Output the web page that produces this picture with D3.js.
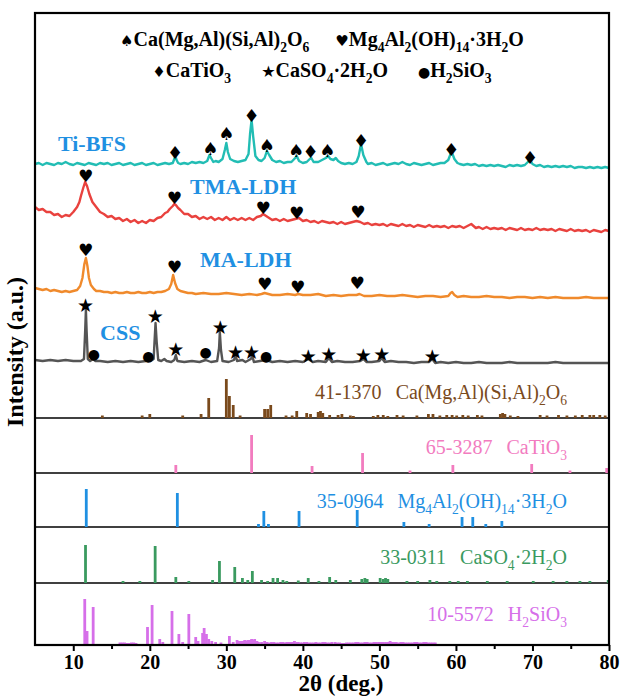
<!DOCTYPE html>
<meta charset="utf-8">
<script src="https://d3js.org/d3.v7.min.js"></script>
<style>
  body { margin: 0; background: #fff; }
  text { font-family: "Liberation Serif", "Times New Roman", serif; }
</style>
<div id="chart"></div>
<script>

// ---- measured patterns (2theta, intensity above the pattern baseline, a.u.) ----
var tiBFS = [[5,0],[5.5,1],[6,-1],[6.5,1],[7,0],[7.5,-1],[8,1],[8.5,0],[9,2],[9.5,0],[10,-1],[10.5,1],[11,0],[11.5,-1],[12,1],[12.5,0],[13,-1],[13.5,1],[14,0],[14.5,1],[15,-1],[15.5,0],[16,1],[16.5,-1],[17,0],[17.5,1],[18,-1],[18.5,0],[19,1],[19.5,-1],[20,0],[20.5,1],[21,-1],[21.5,0],[22,1],[22.5,0],[23,1],[23.2,5],[23.35,8],[23.5,4],[23.7,1],[24,0],[24.5,1],[25,0],[25.5,2],[26,1],[26.5,2],[27,1],[27.5,3],[27.8,9],[28,6],[28.3,2],[28.6,3],[29,2],[29.5,5],[29.8,14],[30,21],[30.2,12],[30.5,5],[31,3],[31.5,2],[32,3],[32.5,4],[32.9,10],[33.1,30],[33.3,44],[33.5,28],[33.8,8],[34.2,4],[34.6,3],[35,6],[35.3,13],[35.6,9],[36,4],[36.5,2],[37,3],[37.5,1],[38,2],[38.5,2],[39,6],[39.2,8],[39.5,3],[40,1],[40.5,2],[40.9,5],[41.1,6],[41.4,2],[42,2],[42.5,4],[43,6],[43.3,8],[43.6,5],[44,4],[44.3,6],[44.6,3],[45,1],[45.5,0],[46,1],[46.5,0],[47,2],[47.3,8],[47.6,20],[47.9,9],[48.3,2],[48.5,0],[49,1],[49.5,-1],[50,0],[50.5,1],[51,-1],[51.5,0],[52,1],[52.5,0],[53,2],[53.5,0],[54,-1],[54.5,1],[55,0],[55.5,-1],[56,0],[56.5,1],[57,-1],[57.5,0],[58,1],[58.5,1],[59,4],[59.3,10],[59.5,11],[59.8,5],[60.2,1],[60.5,0],[61,-1],[61.5,0],[62,-1],[62.5,0],[63,-2],[63.5,-1],[64,-2],[64.5,-1],[65,-2],[65.5,-1],[66,-2],[66.5,-3],[67,-1],[67.5,-2],[68,-1],[68.5,-2],[69,-1],[69.4,2],[69.7,4],[70,0],[70.5,-2],[71,-1],[71.5,-3],[72,-2],[72.5,-3],[73,-2],[73.5,-3],[74,-2],[74.5,-3],[75,-2],[75.5,-4],[76,-3],[76.5,-3],[77,-4],[77.5,-3],[78,-4],[78.5,-3],[79,-4],[79.5,-3],[80,-4]];

var tmaLDH = [[5,1],[5.5,-2],[6,-1],[6.5,-4],[7,-4],[7.5,-7],[8,-6],[8.5,-9],[9,-7],[9.5,-8],[10,-4],[10.5,1],[10.8,6],[11,12],[11.3,20],[11.55,26],[11.8,22],[12.1,14],[12.5,6],[13,1],[13.5,-4],[14,-6],[14.5,-9],[15,-8],[15.5,-11],[16,-10],[16.5,-13],[17,-11],[17.5,-14],[18,-12],[18.5,-15],[19,-13],[19.5,-15],[20,-12],[20.5,-13],[21,-10],[21.5,-9],[22,-5],[22.3,-4],[22.6,-1],[23,2],[23.2,4],[23.4,3],[23.7,0],[24,-2],[24.5,-6],[25,-6],[25.5,-9],[26,-8],[26.5,-11],[27,-9],[27.5,-11],[28,-9],[28.5,-12],[29,-10],[29.5,-12],[30,-9],[30.5,-12],[31,-10],[31.5,-12],[32,-10],[32.5,-12],[33,-10],[33.5,-12],[34,-9],[34.5,-8],[34.8,-6],[35.2,-8],[35.6,-10],[36,-12],[36.5,-11],[37,-13],[37.5,-11],[38,-13],[38.5,-12],[39,-11],[39.5,-10],[40,-13],[40.5,-12],[41,-14],[41.5,-13],[42,-15],[42.5,-13],[43,-14],[43.5,-15],[44,-14],[44.5,-16],[45,-14],[45.5,-16],[46,-15],[46.5,-14],[47,-13],[47.5,-14],[48,-16],[48.5,-15],[49,-17],[49.5,-16],[50,-17],[50.5,-16],[51,-18],[51.5,-16],[52,-17],[52.5,-18],[53,-16],[53.5,-18],[54,-17],[54.5,-19],[55,-17],[55.5,-18],[56,-19],[56.5,-17],[57,-19],[57.5,-18],[58,-19],[58.5,-18],[59,-20],[59.5,-18],[60,-19],[60.5,-18],[61,-20],[61.5,-18],[62,-16],[62.3,-18],[62.6,-20],[63,-19],[63.5,-21],[64,-19],[64.5,-21],[65,-20],[65.5,-21],[66,-20],[66.5,-22],[67,-20],[67.5,-21],[68,-22],[68.5,-20],[69,-22],[69.5,-21],[70,-22],[70.5,-20],[71,-22],[71.5,-21],[72,-22],[72.5,-21],[73,-23],[73.5,-21],[74,-22],[74.5,-23],[75,-21],[75.5,-23],[76,-22],[76.5,-23],[77,-22],[77.5,-24],[78,-22],[78.5,-23],[79,-24],[79.5,-22],[80,-23]];

var maLDH = [[5,2],[5.5,1],[6,0],[6.5,1],[7,-1],[7.5,0],[8,-1],[8.5,-2],[9,-1],[9.5,-2],[10,-1],[10.5,0],[10.9,4],[11.2,12],[11.45,26],[11.65,32],[11.85,24],[12.05,12],[12.3,5],[12.7,1],[13,-1],[13.5,-1],[14,-2],[14.5,-2],[15,-3],[15.5,-2],[16,-3],[16.5,-3],[17,-2],[17.5,-3],[18,-3],[18.5,-2],[19,-3],[19.5,-3],[20,-2],[20.5,-3],[21,-2],[21.5,-2],[22,-1],[22.5,1],[22.8,6],[23.05,15],[23.3,7],[23.6,1],[24,-1],[24.5,-2],[25,-3],[25.5,-3],[26,-4],[27,-3],[28,-4],[29,-4],[30,-3],[31,-4],[32,-5],[33,-4],[34,-5],[34.6,-4],[35,-3],[35.5,-4],[36,-5],[37,-5],[38,-4],[39,-5],[39.4,-4],[40,-5],[41,-5],[42,-4],[43,-6],[44,-5],[45,-6],[46,-5],[47,-5],[47.4,-4],[48,-6],[49,-6],[50,-5],[51,-6],[52,-6],[53,-5],[54,-6],[55,-7],[56,-6],[57,-6],[58,-7],[59,-6],[59.3,-3],[59.5,-2],[59.8,-5],[60.2,-7],[61,-6],[62,-7],[63,-7],[64,-6],[65,-7],[66,-7],[67,-8],[68,-7],[69,-7],[70,-8],[71,-7],[72,-8],[73,-7],[74,-8],[75,-8],[76,-8],[77,-7],[78,-8],[79,-8],[80,-8]];

var css = [[5,2],[6,1],[7,2],[8,1],[9,2],[10,1],[11,1],[11.4,3],[11.55,30],[11.65,52],[11.75,30],[11.9,3],[12.2,1],[12.6,3],[12.9,1],[13.5,1],[14.5,0],[15.5,1],[16.5,0],[17.5,1],[18.5,0],[19.5,1],[19.8,2],[20.1,1],[20.5,3],[20.65,25],[20.75,39],[20.9,20],[21.1,2],[21.5,1],[21.9,3],[22.2,1],[22.8,0],[23.2,2],[23.4,7],[23.6,1],[24.5,0],[25.5,1],[26.5,0],[27.3,2],[28,0],[28.8,1],[29.05,14],[29.15,30],[29.3,12],[29.5,1],[30.3,0],[31,2],[31.2,7],[31.4,1],[32.1,2],[32.5,0],[33.2,3],[33.4,6],[33.6,0],[34.4,1],[35.2,2],[36,0],[37,1],[38,0],[39,1],[40,0],[40.7,3],[41.3,0],[42,1],[43,0],[43.4,4],[43.8,0],[44.5,1],[45.5,0],[46.5,0],[47.5,1],[47.9,3],[48.3,0],[49,0],[50,1],[50.3,4],[50.7,0],[51.5,1],[52.5,0],[53.5,0],[54.5,-1],[55.5,0],[56.5,0],[56.9,3],[57.3,-1],[58,0],[59,-1],[60,0],[61,-1],[62,-1],[63,0],[64,-1],[65,-1],[66,-1],[67,0],[68,-1],[69,-1],[70,-1],[71,-1],[72,-1],[73,0],[74,-1],[75,-1],[76,-1],[77,-1],[78,-1],[79,-1],[80,-1]];

// phase markers: 2theta, height above baseline, symbol
var markTi = [[23.3,12,"♦"],[27.9,16,"♠"],[30.0,31,"♠"],[33.3,49,"♦"],[35.3,19,"♠"],[39.1,14,"♠"],[41.0,13,"♦"],[43.2,14,"♠"],[47.6,24,"♦"],[59.4,15,"♦"],[69.7,7,"♦"]];
var markTMA = [[11.6,32,"♥"],[23.2,10,"♥"],[34.8,0,"♥"],[39.2,-5,"♥"],[47.2,-4,"♥"]];
var markMA = [[11.6,40,"♥"],[23.2,23,"♥"],[35.0,6,"♥"],[39.3,3,"♥"],[47.1,7,"♥"]];
var markCSS = [[11.6,57,"★"],[12.7,8,"●"],[19.8,6,"●"],[20.7,46,"★"],[23.4,13,"★"],[27.3,10,"●"],[29.2,35,"★"],[31.2,10,"★"],[33.3,10,"★"],[35.2,6,"●"],[40.7,6,"★"],[43.4,8,"★"],[47.9,7,"★"],[50.3,8,"★"],[56.9,6,"★"]];

// standard cards: 2theta, relative intensity
var pdf41_1370 = [[13.8,1.5],[19.0,1.5],[20.0,3],[24.3,1.5],[26.7,3],[27.7,19],[30.0,38],[30.4,21],[30.9,12],[31.8,1.5],[35.0,8],[35.4,8],[35.8,12],[37.8,1.5],[38.6,1.5],[39.2,6],[40.5,4],[41.0,3],[42.0,5],[42.3,6],[42.6,4],[43.5,2],[44.6,2],[45.1,3],[46.2,1.5],[46.6,1],[49.2,1],[49.8,2],[50.5,2],[51.1,1],[52.3,2],[53.1,1.5],[54.9,1.5],[56.4,3],[57.0,3],[57.9,1.5],[58.8,2],[59.5,2],[60.1,1.5],[60.9,2],[61.6,1.5],[62.8,2],[63.4,1.5],[65.8,3],[66.1,4],[66.4,3],[67.1,1.5],[68.1,1],[71.0,2],[71.9,1.5],[73.4,2],[74.5,1.5],[75.6,1.5],[76.5,2],[77.5,2],[78.0,2],[78.8,2],[79.5,1.5]];
var pdf65_3287 = [[23.4,7],[33.3,37],[41.2,6],[47.8,19],[54.0,1.5],[59.6,7],[69.9,8],[74.9,1.5],[79.7,4]];
var pdf35_0964 = [[11.7,37],[23.6,33],[34.2,2],[34.9,15],[35.5,2],[39.5,15],[47.1,16],[53.2,4],[56.5,2],[60.8,9],[62.2,9],[63.9,2],[66.0,5]];
var pdf33_0311 = [[11.6,37],[16.5,1],[18.7,1],[20.7,36],[23.4,5],[25.1,1],[28.2,2],[29.1,21],[31.1,15],[32.1,4],[32.8,2],[33.4,11],[34.6,2],[35.4,1],[36.1,4],[36.7,4],[37.4,2],[37.9,1],[39.4,1.5],[40.7,4],[42.1,1],[43.5,5],[44.3,2],[46.2,2],[47.7,3],[48.1,4],[48.4,3],[50.1,4],[50.5,3],[50.8,4],[51.1,3],[53.6,1],[55.0,1],[56.6,2],[57.5,1],[59.2,1],[60.3,1],[61.5,1],[64.1,1],[66.7,1],[70.1,1],[72.7,1],[74.5,1],[76.2,1],[77.5,1],[79.9,2]];
var pdf10_5572 = [[11.5,45],[11.8,13],[12.6,37],[16.1,1.5],[16.4,1.5],[16.7,1.5],[17.0,1],[17.3,1],[17.6,1.5],[17.9,1.5],[18.2,1],[19.7,17],[20.3,39],[21.3,5],[21.7,2],[22.9,33],[23.8,10],[24.3,2],[25.1,30],[26.0,7],[26.3,3],[26.9,11],[27.1,16],[27.4,10],[27.7,5],[28.1,3],[28.6,2],[29.3,1.5],[30.4,8],[30.9,2],[31.4,4],[31.7,3],[31.9,3],[32.2,3],[32.4,4],[32.6,3],[32.8,4],[33.1,4],[33.3,5],[33.5,4],[33.7,5],[34.0,3],[34.2,2],[34.6,2],[35.0,3],[35.3,2],[35.6,1.5],[35.9,2],[36.2,2],[36.5,1.5],[36.8,1.5],[37.1,2],[37.4,2],[37.7,1.5],[37.9,2],[38.2,2],[38.4,2],[38.7,2],[38.9,3],[39.2,2],[39.4,2],[39.7,1.5],[39.9,1.5],[40.2,2],[40.5,2],[40.8,1.5],[41.1,1.5],[41.4,1.5],[41.7,2],[42.0,1.5],[42.3,1.5],[42.6,2],[42.9,2],[43.2,1.5],[43.5,1.5],[43.8,2],[44.2,2],[44.5,1.5],[44.8,1.5],[45.1,1],[45.4,1],[45.7,1.5],[46.0,1.5],[46.3,1.5],[46.6,1.5],[46.9,2],[47.2,2],[47.5,1.5],[47.8,1.5],[48.1,2],[48.4,2],[48.7,1.5],[49.0,1.5],[49.3,2],[49.6,2],[49.9,2],[50.2,2],[50.5,2],[50.8,2],[51.1,2],[51.4,3],[51.7,2],[51.9,2],[52.2,2],[52.5,1.5],[52.8,2],[53.1,2],[53.4,1.5],[53.7,1.5],[54.0,1.5],[54.3,1.5],[54.6,2],[54.9,2],[55.2,1.5],[55.5,1.5],[55.8,2],[56.1,2],[56.4,1.5],[56.7,1.5],[57.0,1.5],[57.3,1.5]];

var xTicks = [10, 20, 30, 40, 50, 60, 70, 80];
var xMinor = [15, 25, 35, 45, 55, 65, 75];

// stacking offsets (a.u.)
var sampleNames = ["Ti-BFS", "TMA-LDH", "MA-LDH", "CSS"];
var sampleOffsets = [481, 437, 355, 283];
var cardNames = ["41-1370", "65-3287", "35-0964", "33-0311", "10-5572"];
var cardFormulas = ["Ca(Mg,Al)(Si,Al)_2O_6", "CaTiO_3", "Mg_4Al_2(OH)_14·3H_2O", "CaSO_4·2H_2O", "H_2SiO_3"];
var cardOffsets = [227, 172, 118, 62, 0];

// ---- layout ----
var W = 625, H = 699;
var margin = {top: 13, right: 16, bottom: 54, left: 35};

var svg = d3.select("#chart")
  .append("svg")
    .attr("width", W)
    .attr("height", H);

var x = d3.scaleLinear().domain([5, 80]).range([margin.left, W - margin.right]);
var y = d3.scaleLinear().domain([0, 632]).range([H - margin.bottom, margin.top]);

var sampleColors = ["#22bdb4", "#e9423e", "#f08a2c", "#555555"];
var cardColors = ["#7a4a1c", "#f27cbf", "#1f90e2", "#3a9a5f", "#d66fe9"];

var samples = [tiBFS, tmaLDH, maLDH, css];
var marks = [markTi, markTMA, markMA, markCSS];
var cards = [pdf41_1370, pdf65_3287, pdf35_0964, pdf33_0311, pdf10_5572];

// writes a formula with _n subscripts into a text element,
// the subscript shift still pending is kept on the node
function formula(t, s, fs, dx) {
  var node = t.node();
  var parts = s.split(/_(\d+)/);
  var first = true;
  parts.forEach(function(p, i) {
    if (p === "") return;
    var sub = i % 2 === 1;
    var want = sub ? fs * 0.28 : 0;
    var ts = t.append("tspan")
      .attr("dy", want - (node.__shift || 0))
      .text(p);
    if (sub) ts.attr("font-size", fs * 0.68);
    if (first && dx) ts.attr("dx", dx);
    first = false;
    node.__shift = want;
  });
}

function symbol(t, s, size, dx) {
  var node = t.node();
  var ts = t.append("tspan")
    .style("font-family", "DejaVu Sans")
    .attr("font-size", size)
    .attr("dy", -(node.__shift || 0))
    .text(s);
  if (dx) ts.attr("dx", dx);
  node.__shift = 0;
}

// ---- reference card baselines + sticks ----
cards.forEach(function(card, i) {
  var base = cardOffsets[i];
  if (i < 4) {
    svg.append("line")
      .attr("x1", x(5)).attr("x2", x(80))
      .attr("y1", y(base)).attr("y2", y(base))
      .attr("stroke", "#000").attr("stroke-width", 1.5);
  }
  svg.append("g").selectAll("line")
    .data(card)
    .enter().append("line")
      .attr("x1", function(d) { return x(d[0]); })
      .attr("x2", function(d) { return x(d[0]); })
      .attr("y1", y(base))
      .attr("y2", function(d) { return y(base + d[1] + 1); })
      .attr("stroke", cardColors[i])
      .attr("stroke-width", 2.8);

  var lab = svg.append("text")
    .attr("x", 567)
    .attr("y", y(base + (i == 4 ? 24 : 19)))
    .attr("text-anchor", "end")
    .attr("font-size", 20)
    .attr("fill", cardColors[i]);
  lab.append("tspan").text(cardNames[i]);
  formula(lab, cardFormulas[i], 20, 14);
});

// ---- sample patterns ----
var labelPos = [[8.0, 13], [25.25, 14], [26.55, 23], [13.5, 22]];
var markSize = {"♠": 18, "♥": 17, "♦": 18, "★": 19, "●": 14};
samples.forEach(function(data, i) {
  var off = sampleOffsets[i];
  svg.append("path")
    .datum(data)
    .attr("d", d3.line()
      .x(function(d) { return x(d[0]); })
      .y(function(d) { return y(off + d[1]); }))
    .attr("fill", "none")
    .attr("stroke", sampleColors[i])
    .attr("stroke-width", 2.4)
    .attr("stroke-linejoin", "round");

  svg.append("g").selectAll("text")
    .data(marks[i])
    .enter().append("text")
      .attr("x", function(d) { return x(d[0]); })
      .attr("y", function(d) { return y(off + d[1]); })
      .attr("text-anchor", "middle")
      .attr("dominant-baseline", "central")
      .style("font-family", "DejaVu Sans")
      .attr("font-size", function(d) { return markSize[d[2]]; })
      .text(function(d) { return d[2]; });

  svg.append("text")
    .attr("x", x(labelPos[i][0]))
    .attr("y", y(off + labelPos[i][1]))
    .attr("font-size", 22)
    .attr("font-weight", "bold")
    .attr("fill", "#1f90e2")
    .text(sampleNames[i]);
});

// ---- legend ----
var cx = (x(5) + x(80)) / 2;
var row1 = svg.append("text").attr("x", cx).attr("y", 46)
  .attr("text-anchor", "middle").attr("font-size", 20).attr("font-weight", "bold");
symbol(row1, "♠", 15);
formula(row1, "Ca(Mg,Al)(Si,Al)_2O_6", 20);
symbol(row1, "♥", 15, 26);
formula(row1, "Mg_4Al_2(OH)_14·3H_2O", 20);

var row2 = svg.append("text").attr("x", cx).attr("y", 77)
  .attr("text-anchor", "middle").attr("font-size", 20).attr("font-weight", "bold");
symbol(row2, "♦", 15);
formula(row2, "CaTiO_3", 20);
symbol(row2, "★", 16, 30);
formula(row2, "CaSO_4·2H_2O", 20);
symbol(row2, "●", 14, 30);
formula(row2, "H_2SiO_3", 20);

// ---- frame and axes ----
svg.append("rect")
  .attr("x", x(5)).attr("y", y(632))
  .attr("width", x(80) - x(5)).attr("height", y(0) - y(632))
  .attr("fill", "none").attr("stroke", "#000").attr("stroke-width", 2.2);

var xAxis = svg.append("g")
  .attr("transform", "translate(0," + y(0) + ")")
  .call(d3.axisBottom(x).tickValues(xTicks).tickSize(6).tickPadding(4).tickFormat(d3.format("d")));
xAxis.select(".domain").remove();
xAxis.selectAll("line").attr("stroke-width", 2);
xAxis.selectAll("text")
  .attr("font-size", 20).attr("font-weight", "bold").attr("fill", "#000")
  .style("font-family", "Liberation Serif");

var xAxisMinor = svg.append("g")
  .attr("transform", "translate(0," + y(0) + ")")
  .call(d3.axisBottom(x).tickValues(xMinor).tickSize(4).tickFormat(""));
xAxisMinor.select(".domain").remove();
xAxisMinor.selectAll("line").attr("stroke-width", 2);

svg.append("text")
  .attr("x", 341).attr("y", 691)
  .attr("text-anchor", "middle")
  .attr("font-size", 23).attr("font-weight", "bold")
  .text("2θ (deg.)");

svg.append("text")
  .attr("transform", "translate(23,352) rotate(-90)")
  .attr("text-anchor", "middle")
  .attr("font-size", 24).attr("font-weight", "bold")
  .text("Intensity (a.u.)");

</script>
